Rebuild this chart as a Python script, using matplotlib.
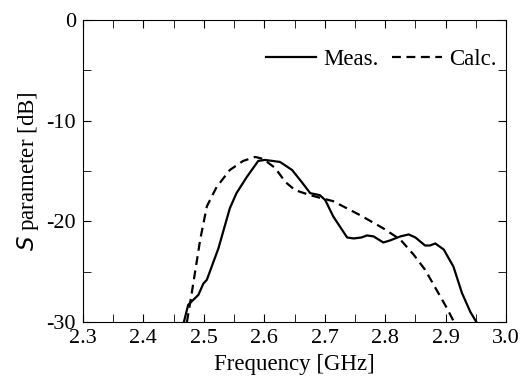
import numpy as np
import matplotlib
matplotlib.use("Agg")
import matplotlib.pyplot as plt
from matplotlib.ticker import MultipleLocator

plt.rcParams['font.family'] = ['Liberation Serif', 'DejaVu Serif']
plt.rcParams['axes.unicode_minus'] = False

# measured curve
meas_f = [2.467, 2.474, 2.491, 2.499, 2.505, 2.524, 2.543, 2.554, 2.571, 2.590,
          2.601, 2.626, 2.646, 2.662, 2.676, 2.692, 2.701, 2.714, 2.737, 2.748,
          2.761, 2.770, 2.781, 2.797, 2.808, 2.825, 2.839, 2.850, 2.866, 2.874,
          2.883, 2.897, 2.913, 2.927, 2.941, 2.951]
meas_s = [-30.0, -28.3, -27.3, -26.2, -25.8, -22.7, -18.7, -17.2, -15.6, -14.0,
          -13.9, -14.1, -14.9, -16.1, -17.2, -17.4, -17.9, -19.5, -21.6, -21.7,
          -21.6, -21.4, -21.5, -22.1, -21.9, -21.5, -21.3, -21.6, -22.4, -22.4,
          -22.2, -22.8, -24.5, -27.1, -29.0, -30.0]

# calculated curve
calc_f = [2.472, 2.480, 2.494, 2.505, 2.521, 2.543, 2.565, 2.585, 2.598, 2.618,
          2.635, 2.651, 2.676, 2.714, 2.759, 2.797, 2.825, 2.847, 2.866, 2.885,
          2.902, 2.914]
calc_s = [-30.0, -27.1, -21.8, -18.5, -16.6, -14.9, -14.0, -13.6, -13.8, -14.7,
          -16.1, -16.9, -17.4, -18.0, -19.4, -20.7, -21.8, -23.3, -24.8, -26.8,
          -28.6, -30.0]

fig = plt.figure(figsize=(5.23, 3.89), dpi=100)
ax = fig.add_axes([0.1587, 0.1722, 0.8088, 0.7764])

ax.plot(meas_f, meas_s, color='black', lw=1.6, ls='-', label='Meas.')
ax.plot(calc_f, calc_s, color='black', lw=1.6, ls=(0, (4, 2.5)), label='Calc.')

ax.set_xlim(2.3, 3.0)
ax.set_ylim(-30, 0)
ax.xaxis.set_major_locator(MultipleLocator(0.1))
ax.xaxis.set_minor_locator(MultipleLocator(0.05))
ax.yaxis.set_major_locator(MultipleLocator(10))
ax.yaxis.set_minor_locator(MultipleLocator(5))
ax.tick_params(which='both', direction='in', top=True, right=True, labelsize=16, pad=5)
ax.tick_params(which='major', length=6)
ax.tick_params(which='minor', length=6)
ax.set_xticklabels([f"{v:.1f}" for v in ax.get_xticks()])

ax.set_xlabel('Frequency [GHz]', fontsize=16.5, labelpad=4)
ax.set_ylabel('$\\mathit{S}$ parameter [dB]', fontsize=16.5, labelpad=4)

ax.legend(loc='upper right', ncol=2, frameon=False, fontsize=16.5,
          handlelength=2.2, handletextpad=0.3, columnspacing=0.6,
          borderaxespad=0.0, bbox_to_anchor=(1.0, 0.935))

fig.savefig('out.png', dpi=100)
